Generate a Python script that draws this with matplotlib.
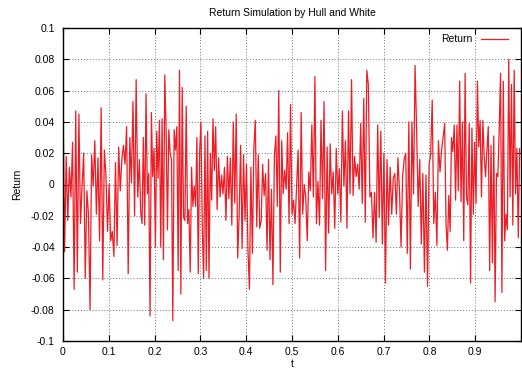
import numpy as np
import matplotlib
matplotlib.use("Agg")
import matplotlib.pyplot as plt

# Simulated returns, Hull and White model, sampled over t in [0, 1]
returns_a = [0.058, -0.043, 0.018, -0.023, 0.011, -0.008, 0.027, -0.067, 0.047, -0.056,
             0.045, -0.025, -0.001, 0.020, -0.060, -0.004, -0.019, -0.080, 0.019, -0.001,
             0.028, -0.019, 0.017, -0.036, 0.049, -0.061, 0.022, 0.006, -0.030, 0.000,
             -0.036, -0.030, -0.046, 0.014, -0.039, 0.024, -0.004, 0.016, 0.025, 0.013,
             0.037, -0.057, 0.030, 0.001, 0.053, -0.020, 0.067, -0.008]
returns_b = [0.016, -0.017, -0.025, 0.030, -0.026, 0.058, -0.006, 0.007, -0.084, 0.046,
             0.005, 0.023, -0.040, 0.034, 0.004, 0.041, -0.040, 0.042, -0.048, 0.070,
             0.034, -0.029, 0.035, 0.020, 0.016, -0.087, 0.035, 0.022, 0.037, -0.055,
             0.073, -0.070, 0.062, -0.021, -0.023, 0.050, -0.025, -0.016, -0.056, 0.011,
             -0.014, -0.001, -0.014, 0.030, -0.057, 0.020, 0.040, -0.027, -0.060, 0.031,
             -0.055, 0.034, -0.060, 0.020, -0.010, 0.042, 0.009]
returns_c = [0.037, -0.016, 0.017, -0.008, 0.006, -0.006, 0.011, -0.023, 0.018, -0.009,
             0.017, -0.026, 0.040, -0.012, 0.045, -0.047, -0.019, 0.025, -0.041, 0.019,
             -0.023, 0.013, -0.042, -0.067, 0.011, -0.044, 0.023, 0.041, -0.027, 0.019,
             -0.028, -0.023, 0.013, -0.007, 0.007, -0.042, 0.016, -0.048, -0.003, -0.064,
             0.018, 0.031, -0.014, 0.060, -0.056, 0.028, -0.006, 0.009, -0.003, 0.033,
             -0.025, 0.051]
returns_d = [-0.019, -0.010, -0.025, -0.001, 0.022, -0.047, 0.046, -0.019, 0.000, -0.008,
             -0.036, 0.008, -0.004, 0.038, -0.008, 0.069, -0.025, 0.002, -0.026, 0.041,
             -0.009, 0.053, -0.055, 0.024, -0.031, 0.026, -0.006, 0.008, -0.028, 0.023,
             -0.006, 0.010, -0.024, 0.047, -0.001, 0.028, -0.028, 0.047, -0.006, 0.067,
             -0.007, 0.018, 0.005, 0.013, -0.003, 0.039, -0.012, 0.055, -0.024, 0.073]
returns_e = [0.064, -0.008, -0.005, -0.034, -0.005, -0.037, 0.038, -0.021, 0.034, -0.038,
             0.020, -0.063, 0.016, -0.026, 0.011, -0.019, 0.004, 0.007, -0.019, 0.017,
             -0.004, -0.040, 0.005, 0.016, 0.020, -0.044, 0.040, -0.054, 0.040, -0.006,
             0.076, 0.035, -0.014, 0.016, -0.038, 0.007, -0.056, 0.006, -0.065, 0.013,
             0.019, 0.054, -0.025, -0.005, -0.039, 0.028, 0.008, 0.022, 0.030]
returns_f = [0.039, -0.025, -0.042, -0.007, -0.030, 0.030, 0.021, 0.038, -0.010, 0.038,
             -0.004, 0.066, -0.011, 0.040, -0.036, 0.071, -0.008, -0.013, 0.039, -0.063,
             0.036, -0.019, 0.027, -0.012, 0.066, 0.024, 0.041, -0.008, 0.041, 0.018,
             0.005, 0.022, 0.037, -0.055, 0.025, -0.050, 0.031, -0.075, 0.007, 0.005,
             0.035, 0.071, -0.069, 0.066, -0.036, -0.019, -0.029, 0.080, -0.008, 0.064,
             -0.026, 0.073, -0.006, 0.023, -0.034, 0.023]

segments = [returns_a, returns_b, returns_c, returns_d, returns_e, returns_f]

# each block of samples covers one sixth of the time axis
t_parts = []
for k, seg in enumerate(segments):
    t0, t1 = k / 6, (k + 1) / 6
    t_parts.append(np.linspace(t0, t1, len(seg), endpoint=False))
t = np.concatenate(t_parts)
r = np.concatenate([np.asarray(s) for s in segments])

x_ticks = [0, 0.1, 0.2, 0.3, 0.4, 0.5, 0.6, 0.7, 0.8, 0.9]
y_ticks = [-0.1, -0.08, -0.06, -0.04, -0.02, 0, 0.02, 0.04, 0.06, 0.08, 0.1]
y_tick_labels = ["-0.1", "-0.08", "-0.06", "-0.04", "-0.02", "0",
                 "0.02", "0.04", "0.06", "0.08", "0.1"]
x_tick_labels = ["0", "0.1", "0.2", "0.3", "0.4", "0.5", "0.6", "0.7", "0.8", "0.9"]

plt.rcParams['font.family'] = ['Liberation Sans', 'DejaVu Sans']

fig = plt.figure(figsize=(5.22, 3.72), dpi=100)
ax = fig.add_axes([63 / 522, 1 - 341 / 372, 458 / 522, 313 / 372])

ax.plot(t, r, color="#ee1c24", linewidth=0.9, label="Return")

ax.set_xlim(0, 1)
ax.set_ylim(-0.1, 0.1)
ax.set_xticks(x_ticks)
ax.set_xticklabels(x_tick_labels)
ax.set_yticks(y_ticks)
ax.set_yticklabels(y_tick_labels)
ax.tick_params(direction="in", length=4, width=0.8, top=True, right=True,
               labelsize=7.5, colors="black", pad=6)
ax.tick_params(axis="x", pad=4)
ax.grid(True, linestyle=(0, (1, 2)), color="#707070", linewidth=0.7)
for s in ax.spines.values():
    s.set_linewidth(1.0)
    s.set_color("black")

ax.set_title("Return Simulation by Hull and White", fontsize=7.5, pad=9)
ax.set_xlabel("t", fontsize=7.5, labelpad=2)
ax.set_ylabel("Return", fontsize=7.5, labelpad=6)

leg = ax.legend(loc="upper right", bbox_to_anchor=(1.0, 1.02), frameon=False,
                fontsize=7.5, handlelength=2.6, markerfirst=False,
                borderaxespad=0.8, handletextpad=0.9)

fig.savefig("out.png", dpi=100)
